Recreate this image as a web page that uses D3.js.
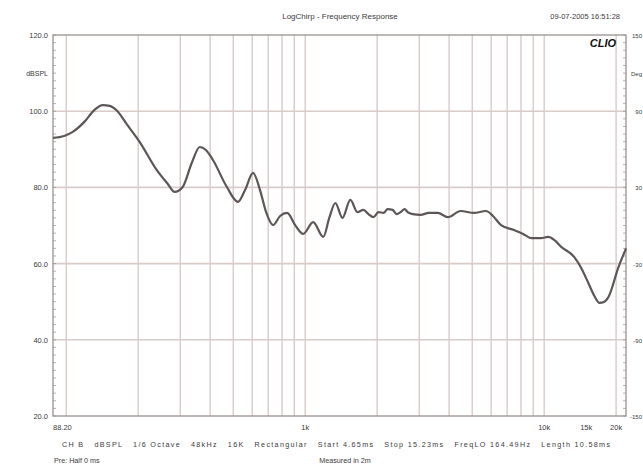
<!DOCTYPE html>
<html><head><meta charset="utf-8">
<script src="https://cdn.jsdelivr.net/npm/d3@7"></script>
<style>
html,body{margin:0;padding:0;background:#fff;}
svg{display:block;font-family:"Liberation Sans",Arial,sans-serif;}
</style></head>
<body><svg id="c" width="643" height="471"></svg>
<script>
const freqs = [88,98,106,119,131,142,152,162,180,203,239,266,284,307,335,362,384,411,470,523,560,605,647,686,734,785,840,908,981,1080,1190,1261,1337,1431,1545,1654,1753,1839,1931,2026,2127,2211,2321,2412,2507,2606,2683,2816,3043,3287,3586,3950,4480,5080,5705,6106,6597,7482,8162,8819,9714,10395,11015,11789,13366,14307,15308,16220,17022,17868,18571,20464,21677,22000];
const splValues = [93.0,93.5,94.5,97.2,100.3,101.6,101.4,100.3,96.4,91.9,84.6,80.9,78.8,80.1,86.4,90.6,89.8,87.2,80.1,76.2,79.3,83.8,79.3,73.5,70.1,72.5,73.3,70.1,67.8,70.9,67.0,72.0,75.9,72.0,76.7,73.5,74.1,73.0,72.2,73.5,73.3,74.3,74.1,73.0,73.5,74.3,73.5,73.0,72.8,73.3,73.3,72.2,73.8,73.3,73.8,72.5,70.1,68.8,67.8,66.7,66.7,67.0,66.2,64.4,61.7,58.8,54.9,51.5,49.7,50.0,51.2,59.1,63.0,64.0];
const yTicks = [20,40,60,80,100,120];
const yTickLabels = ["20.0","40.0","60.0","80.0","100.0","120.0"];
const rightTickLabels = ["-150","-90","-30","30","90","150"];
const gridFreqs = [100,200,300,400,500,600,700,800,900,1000,2000,3000,4000,5000,6000,7000,8000,9000,10000,20000];
const xTickFreqs = [1000,10000,15000,20000];
const xTickLabels = ["1k","10k","15k","20k"];
const xStartLabel = "88.20";
const title = "LogChirp - Frequency Response";
const dateText = "09-07-2005 16:51:28";
const infoLine1 = "CH B   dBSPL   1/6 Octave   48kHz   16K   Rectangular   Start 4.65ms   Stop 15.23ms   FreqLO 164.49Hz   Length 10.58ms";
const infoLine2a = "Pre: Half 0 ms";
const infoLine2b = "Measured in 2m";

const L=53, R=626, T=35, B=416;
const svg = d3.select("#c");
const x = d3.scaleLog().domain([88,22000]).range([L,R]);
const y = d3.scaleLinear().domain([20,120]).range([B,T]);

const gridCol="#d8cbc8", borderCol="#9a9290", textCol="#3a3a3a";

svg.append("g").selectAll("line").data(gridFreqs).join("line")
  .attr("x1",d=>x(d)).attr("x2",d=>x(d)).attr("y1",T).attr("y2",B)
  .attr("stroke",gridCol).attr("stroke-width",1.4);
svg.append("g").selectAll("line").data(yTicks.slice(1,-1)).join("line")
  .attr("x1",L).attr("x2",R).attr("y1",d=>y(d)).attr("y2",d=>y(d))
  .attr("stroke",gridCol).attr("stroke-width",1.6);
svg.append("rect").attr("x",L).attr("y",T).attr("width",R-L).attr("height",B-T)
  .attr("fill","none").attr("stroke",borderCol).attr("stroke-width",1.3);
const minor = d3.range(20,121,2);
svg.append("g").selectAll("line").data(minor).join("line")
  .attr("x1",L).attr("x2",L+3).attr("y1",d=>y(d)).attr("y2",d=>y(d))
  .attr("stroke",borderCol).attr("stroke-width",0.7);
svg.append("g").selectAll("line").data(minor).join("line")
  .attr("x1",R-3).attr("x2",R).attr("y1",d=>y(d)).attr("y2",d=>y(d))
  .attr("stroke",borderCol).attr("stroke-width",0.7);

svg.append("g").selectAll("text").data(yTicks).join("text")
  .attr("x",L-5).attr("y",d=>y(d)+3).attr("text-anchor","end")
  .attr("font-size",7.5).attr("fill",textCol).text((d,i)=>yTickLabels[i]);
svg.append("text").attr("x",L-5).attr("y",y(110)+3).attr("text-anchor","end")
  .attr("font-size",7).attr("fill",textCol).text("dBSPL");
svg.append("g").selectAll("text").data(yTicks).join("text")
  .attr("x",642).attr("y",d=>y(d)+3).attr("text-anchor","end")
  .attr("font-size",6).attr("fill",textCol).text((d,i)=>rightTickLabels[i]);
svg.append("text").attr("x",642).attr("y",y(110)+3).attr("text-anchor","end")
  .attr("font-size",6).attr("fill",textCol).text("Deg");

svg.append("g").selectAll("text").data(xTickFreqs).join("text")
  .attr("x",d=>x(d)).attr("y",B+14).attr("text-anchor","middle")
  .attr("font-size",7.5).attr("fill",textCol).text((d,i)=>xTickLabels[i]);
svg.append("text").attr("x",L).attr("y",B+14).attr("font-size",7.5).attr("fill",textCol).text(xStartLabel);

svg.append("text").attr("x",340).attr("y",19).attr("text-anchor","middle")
  .attr("font-size",8).attr("fill",textCol).text(title);
svg.append("text").attr("x",R-6).attr("y",19).attr("text-anchor","end")
  .attr("font-size",7.5).attr("fill",textCol).text(dateText);
svg.append("text").attr("x",R-10).attr("y",T+12).attr("text-anchor","end")
  .attr("font-size",11).attr("font-weight","bold").attr("font-style","italic")
  .attr("fill","#111").text("CLIO");

svg.append("text").attr("x",62).attr("y",B+31).attr("font-size",7.2)
  .attr("fill",textCol).attr("textLength",548).attr("lengthAdjust","spacing")
  .attr("xml:space","preserve").text(infoLine1);
svg.append("text").attr("x",54).attr("y",B+47).attr("font-size",7.2).attr("fill",textCol).text(infoLine2a);
svg.append("text").attr("x",345).attr("y",B+47).attr("text-anchor","middle").attr("font-size",7.2).attr("fill",textCol).text(infoLine2b);

const data = freqs.map((f,i)=>({f, v: splValues[i]}));
const line = d3.line().x(d=>x(d.f)).y(d=>y(d.v)).curve(d3.curveMonotoneX);
svg.append("path").datum(data).attr("d",line).attr("fill","none")
  .attr("stroke","#5e5656").attr("stroke-width",2.2).attr("stroke-linejoin","round");
</script></body></html>
